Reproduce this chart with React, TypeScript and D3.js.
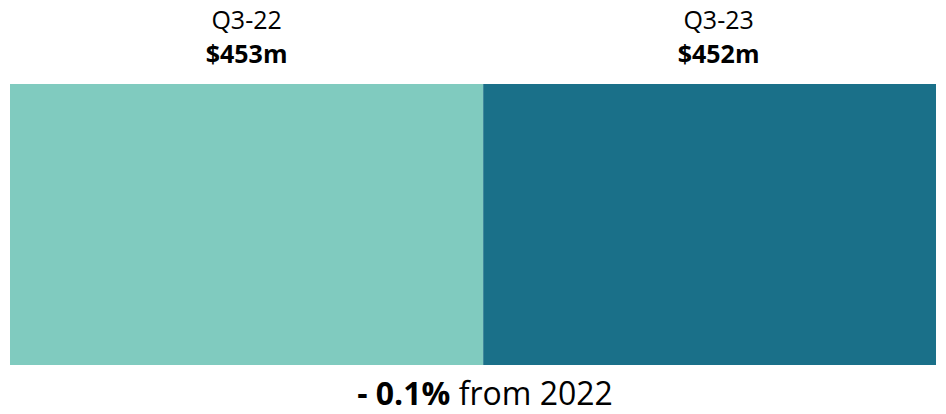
import React from "react";
import * as d3 from "d3";

const periods = ["Q3-22", "Q3-23"];
const values = [453, 452];
const valueLabels = ["$453m", "$452m"];
const colors = ["#80cbbf", "#1a7089"];
const changeLabel = "- 0.1%";
const changeSuffix = " from 2022";

const W = 946;
const H = 414;
const FONT = "'Open Sans', Lato, sans-serif";

export default function App() {
  const left = 10;
  const right = 936;
  const split = 0.511;
  const x = d3.scaleLinear().domain([0, 1]).range([left, right]);
  const edges = [0, split, 1];
  const y0 = 84;
  const y1 = 365;
  const labelOffsets = [0, 9];

  return (
    <svg
      width={W}
      height={H}
      style={{ position: "absolute", left: 0, top: 0, display: "block" }}
      fontFamily={FONT}
    >
      {periods.map((p, i) => {
        const xa = x(edges[i]);
        const xb = x(edges[i + 1]);
        const cx = (xa + xb) / 2 + labelOffsets[i];
        return (
          <g key={p} data-value={values[i]}>
            <rect x={xa} y={y0} width={xb - xa} height={y1 - y0} fill={colors[i]} />
            <text x={cx} y={29} textAnchor="middle" fontSize={25} fill="#000">
              {p}
            </text>
            <text x={cx} y={63} textAnchor="middle" fontSize={25} fontWeight="bold" fill="#000">
              {valueLabels[i]}
            </text>
          </g>
        );
      })}
      <text x={485} y={405} textAnchor="middle" fontSize={32} fill="#000">
        <tspan fontWeight="bold">{changeLabel}</tspan>
        <tspan>{changeSuffix}</tspan>
      </text>
    </svg>
  );
}
